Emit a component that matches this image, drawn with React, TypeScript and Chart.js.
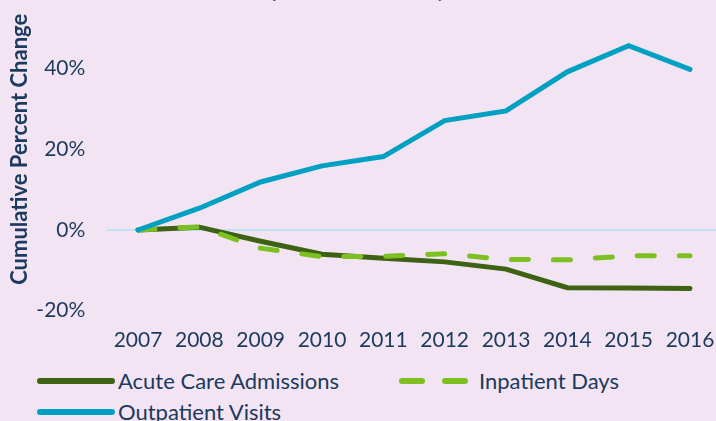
import React, { useEffect, useRef } from "react";
import { Chart, registerables } from "chart.js";

Chart.register(...registerables);

const years = ["2007", "2008", "2009", "2010", "2011", "2012", "2013", "2014", "2015", "2016"];
const acuteCareAdmissions = [0, 0.7, -2.8, -6.0, -7.0, -7.9, -9.7, -14.3, -14.4, -14.5];
const inpatientDays = [0, 0.8, -4.5, -6.6, -6.5, -5.9, -7.3, -7.4, -6.4, -6.4];
const outpatientVisits = [0, 5.4, 11.9, 15.9, 18.2, 27.1, 29.5, 39.2, 45.7, 39.8];
const yMin = -20;
const yMax = 60;
const yStep = 20;

const TITLE = "Acute Hospital Utilization by Year, 2007-2016";
const Y_TITLE = "Cumulative Percent Change";
const NAVY = "#1B3A5E";
const BG = "#F2E4F2";
const DARK_GREEN = "#3E6213";
const LIGHT_GREEN = "#7DC022";
const BLUE = "#00A0C2";
const FONT = "Lato, 'Open Sans', sans-serif";

const CW = 740;
const CH = 400;

function LegendLine({ color, dashed }: { color: string; dashed?: boolean }) {
  return (
    <svg width={80} height={10} style={{ display: "block" }}>
      <line
        x1={4}
        y1={5}
        x2={76}
        y2={5}
        stroke={color}
        strokeWidth={6}
        strokeLinecap="round"
        strokeDasharray={dashed ? "20 23" : undefined}
      />
    </svg>
  );
}

export default function App() {
  const ref = useRef<HTMLCanvasElement | null>(null);

  useEffect(() => {
    if (!ref.current) return;
    const chart = new Chart(ref.current, {
      type: "line",
      data: {
        labels: years,
        datasets: [
          {
            label: "Acute Care Admissions",
            data: acuteCareAdmissions,
            borderColor: DARK_GREEN,
            backgroundColor: DARK_GREEN,
            borderWidth: 5,
            borderCapStyle: "round",
            pointRadius: 0,
            tension: 0,
            order: 2,
          },
          {
            label: "Inpatient Days",
            data: inpatientDays,
            borderColor: LIGHT_GREEN,
            backgroundColor: LIGHT_GREEN,
            borderWidth: 5,
            borderDash: [17, 25],
            borderCapStyle: "round",
            pointRadius: 0,
            tension: 0,
            order: 1,
          },
          {
            label: "Outpatient Visits",
            data: outpatientVisits,
            borderColor: BLUE,
            backgroundColor: BLUE,
            borderWidth: 5,
            borderCapStyle: "round",
            pointRadius: 0,
            tension: 0,
            order: 0,
          },
        ],
      },
      options: {
        responsive: false,
        animation: false,
        layout: { padding: { top: 27.9, right: CW - 720.67, left: 0, bottom: 0 } },
        plugins: { legend: { display: false }, tooltip: { enabled: false } },
        scales: {
          x: {
            type: "category",
            offset: true,
            grid: { display: false },
            border: { display: false },
            ticks: {
              color: NAVY,
              font: { family: FONT, size: 21 },
              padding: 9,
              maxRotation: 0,
              autoSkip: false,
            },
            afterFit: (s: any) => {
              s.height = CH - 350.7;
              s.paddingLeft = 0;
              s.paddingRight = 0;
            },
          },
          y: {
            min: yMin,
            max: yMax,
            border: { display: false },
            grid: {
              drawTicks: false,
              lineWidth: 2,
              color: (ctx: any) => (ctx.tick && ctx.tick.value === 0 ? "#C2E1F6" : "rgba(0,0,0,0)"),
            },
            ticks: {
              stepSize: yStep,
              color: NAVY,
              font: { family: FONT, size: 21 },
              padding: 22,
              callback: (v: any) => v + "%",
            },
            title: {
              display: true,
              text: Y_TITLE,
              color: NAVY,
              font: { family: FONT, size: 22, weight: "bold" },
              padding: { top: 7, bottom: 0 },
            },
            afterFit: (s: any) => {
              s.width = 107.33;
              s.paddingTop = 0;
              s.paddingBottom = 0;
            },
          },
        },
      },
    });
    return () => chart.destroy();
  }, []);

  const textStyle: React.CSSProperties = {
    position: "absolute",
    fontFamily: FONT,
    fontSize: 22,
    color: NAVY,
    lineHeight: "26px",
    whiteSpace: "nowrap",
  };

  return (
    <div
      style={{
        position: "fixed",
        left: 0,
        top: 0,
        width: 716,
        height: 421,
        overflow: "hidden",
        background: BG,
      }}
    >
      <div
        style={{
          position: "absolute",
          left: 0,
          top: -23,
          textAlign: "center",
          width: 784,
          fontFamily: FONT,
          fontSize: 22,
          lineHeight: "24px",
          color: "#3B5575",
          whiteSpace: "nowrap",
        }}
      >
        {TITLE}
      </div>
      <div style={{ position: "absolute", left: 0, top: -40, width: CW, height: CH }}>
        <canvas ref={ref} width={CW} height={CH} style={{ width: CW, height: CH, display: "block" }} />
      </div>
      <div style={{ position: "absolute", left: 36, top: 376 }}>
        <LegendLine color={DARK_GREEN} />
      </div>
      <div style={{ ...textStyle, left: 118, top: 368 }}>Acute Care Admissions</div>
      <div style={{ position: "absolute", left: 398, top: 376 }}>
        <LegendLine color={LIGHT_GREEN} dashed />
      </div>
      <div style={{ ...textStyle, left: 479, top: 368 }}>Inpatient Days</div>
      <div style={{ position: "absolute", left: 36, top: 407 }}>
        <LegendLine color={BLUE} />
      </div>
      <div style={{ ...textStyle, left: 118, top: 399 }}>Outpatient Visits</div>
    </div>
  );
}
